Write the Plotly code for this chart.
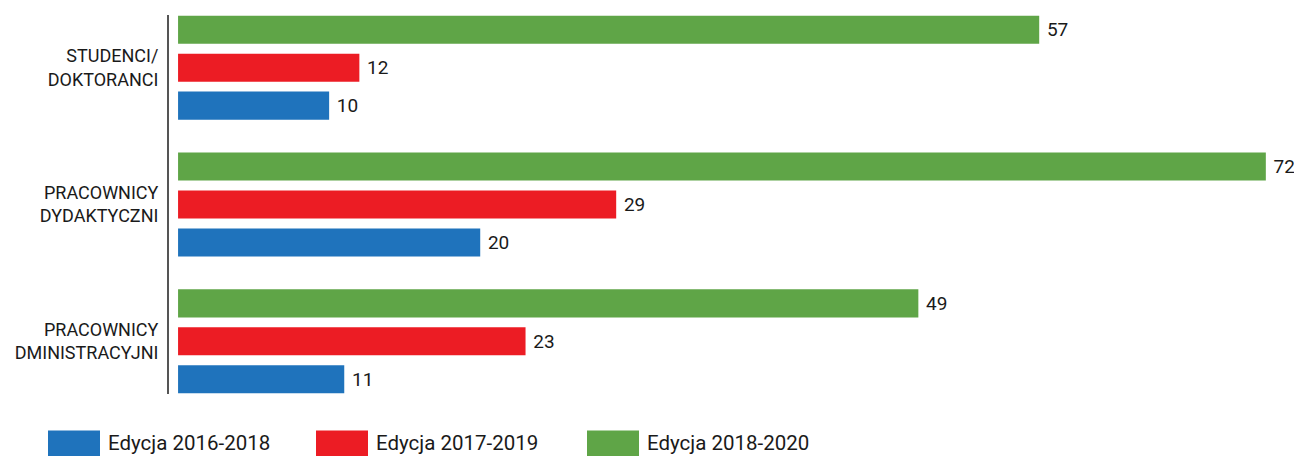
import plotly.graph_objects as go

# the third label is shown clipped in the reference, as "DMINISTRACYJNI"
categories = ["STUDENCI/<br>DOKTORANCI", "PRACOWNICY<br>DYDAKTYCZNI", "PRACOWNICY<br>DMINISTRACYJNI"]
series_names = ["Edycja 2016-2018", "Edycja 2017-2019", "Edycja 2018-2020"]
values_2016 = [10, 20, 11]
values_2017 = [12, 29, 23]
values_2018 = [57, 72, 49]
colors = ["#1f73bc", "#ec1c24", "#5fa547"]

# the page body adds an 8px offset, so the figure coords are shifted by it
W, H = 1302, 456
L, R, T, B = 161, 20, 7, 69.5
FONT = "Roboto"
TICK_FONT = "Liberation Sans Narrow, Arial Narrow, Roboto"

fig = go.Figure()
# green on top, blue at the bottom of each group
for name, vals, col in reversed(list(zip(series_names, [values_2016, values_2017, values_2018], colors))):
    fig.add_trace(go.Bar(
        name=name, y=categories, x=vals, orientation="h",
        marker=dict(color=col, line=dict(width=0)),
        text=["\u00a0" + str(v) for v in vals], textposition="outside",
        textfont=dict(family=FONT, size=19, color="#1a1a1a"),
        cliponaxis=False, showlegend=False,
    ))

fig.update_layout(
    width=W, height=H,
    margin=dict(l=L, r=R, t=T, b=B),
    paper_bgcolor="white", plot_bgcolor="white",
    barmode="group", bargap=0.168, bargroupgap=0.26,
    font=dict(family=FONT, size=18, color="#1a1a1a"),
)
fig.update_xaxes(visible=False, range=[-0.6, 73.6])
fig.update_yaxes(
    range=[2.385, -0.385], showline=True, linecolor="#555555", linewidth=2,
    showgrid=False, zeroline=False, ticks="", ticklabelstandoff=5,
    automargin=False, tickfont=dict(family=TICK_FONT, size=18, color="#1a1a1a"),
)

# custom legend with large swatches
plot_w = W - L - R
plot_h = H - T - B
def px_x(px):
    return (px - L) / plot_w
def px_y(py):
    return (H - B - py) / plot_h

legend_x = [40, 308, 579]
for name, col, x0 in zip(series_names, colors, legend_x):
    fig.add_shape(type="rect", xref="paper", yref="paper",
                  x0=px_x(x0), x1=px_x(x0 + 52), y0=px_y(452), y1=px_y(423),
                  fillcolor=col, line=dict(width=0))
    fig.add_annotation(xref="paper", yref="paper", x=px_x(x0 + 58), y=px_y(436),
                       text=name, showarrow=False, xanchor="left", yanchor="middle",
                       font=dict(family=FONT, size=20.5, color="#1a1a1a"))

fig.write_html("out.html")
